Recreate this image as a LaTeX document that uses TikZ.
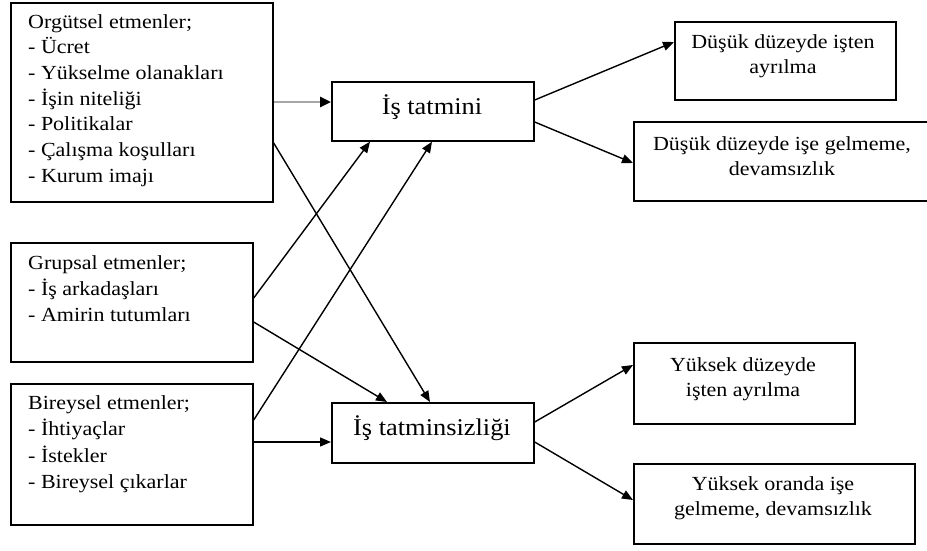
\documentclass[tikz,border=0pt]{standalone}
\usepackage{fontspec}
\setmainfont{Liberation Serif}[FakeStretch=1.1]
\usetikzlibrary{arrows.meta}
\tikzset{
  box/.style={draw=black, line width=1.7pt, rectangle, inner sep=0pt, anchor=north west},
  lefttext/.style={anchor=north west, inner sep=0pt, align=left, font=\fontsize{20}{25.7}\selectfont},
  midtext/.style={inner sep=0pt, align=center, font=\fontsize{24}{28}\selectfont},
  righttext/.style={inner sep=0pt, align=center, font=\fontsize{20}{25.5}\selectfont},
  conn/.style={draw=black, line width=1.4pt, -{Triangle[length=11pt,width=9pt]}},
  grayconn/.style={draw=black!35, line width=2.6pt, -{Triangle[length=11pt,width=10pt,color=black]}}
}
\begin{document}
\begin{tikzpicture}[x=1pt,y=-1pt]
\useasboundingbox (0,0) rectangle (927,550);
% boxes
\node[box, minimum width=262pt, minimum height=199pt] (A) at (10,2) {};
\node[box, minimum width=242pt, minimum height=119pt] (B) at (10,242) {};
\node[box, minimum width=242pt, minimum height=141pt] (C) at (10,383) {};
\node[box, minimum width=202pt, minimum height=59pt] (D) at (331,81) {};
\node[box, minimum width=202pt, minimum height=60pt] (E) at (331,402) {};
\node[box, minimum width=221pt, minimum height=78pt] (F) at (674,21) {};
\node[box, minimum width=307pt, minimum height=79pt] (G) at (633,121) {};
\node[box, minimum width=221pt, minimum height=81pt] (H) at (633,342) {};
\node[box, minimum width=281pt, minimum height=80pt] (I) at (633,463) {};
% texts
\node[lefttext] (At) at (28,14) {Orgütsel etmenler;\\- Ücret\\- Yükselme olanakları\\- İşin niteliği\\- Politikalar\\- Çalışma koşulları\\- Kurum imajı};
\node[lefttext, font=\fontsize{20}{26}\selectfont] (Bt) at (28,255) {Grupsal etmenler;\\- İş arkadaşları\\- Amirin tutumları};
\node[lefttext, font=\fontsize{20}{26.5}\selectfont] (Ct) at (28,395) {Bireysel etmenler;\\- İhtiyaçlar\\- İstekler\\- Bireysel çıkarlar};
\node[midtext] (Dt) at (432,107) {İş tatmini};
\node[midtext] (Et) at (432,428) {İş tatminsizliği};
\node[righttext] (Ft) at (783,56) {Düşük düzeyde işten\\ayrılma};
\node[righttext] (Gt) at (782,156) {Düşük düzeyde işe gelmeme,\\devamsızlık};
\node[righttext] (Ht) at (743,379) {Yüksek düzeyde\\işten ayrılma};
\node[righttext] (It) at (773,498) {Yüksek oranda işe\\gelmeme, devamsızlık};
% connectors
\draw[grayconn] ([yshift=-100pt]A.north east) -- ([yshift=-21pt]D.north west);
\draw[conn] ([yshift=-141pt]A.north east) -- ([xshift=99pt]E.north west);
\draw[conn] ([yshift=-56pt]B.north east) -- ([xshift=39pt]D.south west);
\draw[conn] ([yshift=-80pt]B.north east) -- ([xshift=56pt]E.north west);
\draw[conn] ([yshift=-37pt]C.north east) -- ([xshift=101pt]D.south west);
\draw[conn] ([yshift=-59pt]C.north east) -- ([yshift=-40pt]E.north west);
\draw[conn] ([yshift=-19pt]D.north east) -- ([yshift=-21pt]F.north west);
\draw[conn] ([yshift=-41pt]D.north east) -- ([yshift=-42pt]G.north west);
\draw[conn] ([yshift=-20pt]E.north east) -- ([yshift=-23pt]H.north west);
\draw[conn] ([yshift=-40pt]E.north east) -- ([yshift=-37pt]I.north west);
\end{tikzpicture}
\end{document}
